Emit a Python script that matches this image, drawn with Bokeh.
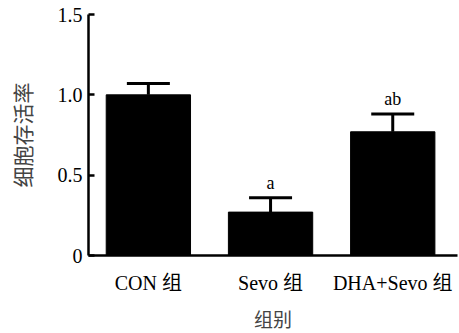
from bokeh.plotting import figure
from bokeh.models import Range1d, FixedTicker, Whisker, TeeHead, ColumnDataSource
from bokeh.core.properties import value
from bokeh.embed import file_html
from bokeh.resources import INLINE

categories = ["CON 组", "Sevo 组", "DHA+Sevo 组"]
means = [1.00, 0.27, 0.77]
upper = [1.07, 0.36, 0.88]
sig_labels = ["", "a", "ab"]
y_ticks = [0, 0.5, 1.0, 1.5]
y_tick_labels = ["0", "0.5", "1.0", "1.5"]
x_title = "组别"
y_title = "细胞存活率"

xs = list(range(len(categories)))
src = ColumnDataSource(dict(x=xs, top=means, up=upper, sig=sig_labels))

SERIF = "'Liberation Serif', 'Noto Sans CJK SC'"

p = figure(width=459, height=333, output_backend="svg", toolbar_location=None,
           x_range=Range1d(-0.49, 2.53), y_range=Range1d(0, 1.5),
           min_border_left=88, min_border_right=2, min_border_top=14, min_border_bottom=77)
p.outline_line_color = None
p.grid.visible = False

p.vbar(x="x", top="top", width=0.69, source=src, fill_color="black", line_color="black")

w = Whisker(base="x", upper="up", lower="top", source=src, line_width=3, line_color="black",
            upper_head=TeeHead(size=43, line_width=3, line_color="black"), lower_head=None)
p.add_layout(w)

p.text(x="x", y="up", text="sig", source=src, text_align="center", text_baseline="bottom",
       y_offset=-5, text_font=value(SERIF), text_font_size="18px", text_color="black")

# x axis
xa = p.xaxis[0]
xa.ticker = FixedTicker(ticks=xs)
xa.major_label_overrides = {i: c for i, c in enumerate(categories)}
xa.major_tick_in = 0
xa.major_tick_out = 0
xa.minor_tick_line_color = None
xa.axis_line_width = 2.5
xa.major_label_standoff = 16
xa.major_label_text_font = SERIF
xa.major_label_text_font_size = "20px"
xa.major_label_text_color = "black"
xa.axis_label = x_title
xa.axis_label_text_font = SERIF
xa.axis_label_text_font_style = "normal"
xa.axis_label_text_font_size = "19px"
xa.axis_label_standoff = 13

# y axis
ya = p.yaxis[0]
ya.ticker = FixedTicker(ticks=y_ticks)
ya.major_label_overrides = {t: l for t, l in zip(y_ticks, y_tick_labels)}
ya.major_tick_in = 6
ya.major_tick_out = 0
ya.major_tick_line_width = 2.5
ya.minor_tick_line_color = None
ya.axis_line_width = 2.5
ya.major_label_standoff = 6
ya.major_label_text_font = "Liberation Serif"
ya.major_label_text_font_size = "20px"
ya.major_label_text_color = "black"
ya.axis_label = y_title
ya.axis_label_text_font = SERIF
ya.axis_label_text_font_style = "normal"
ya.axis_label_text_font_size = "21px"
ya.axis_label_standoff = 19

open("out.html", "w").write(file_html(p, INLINE))
